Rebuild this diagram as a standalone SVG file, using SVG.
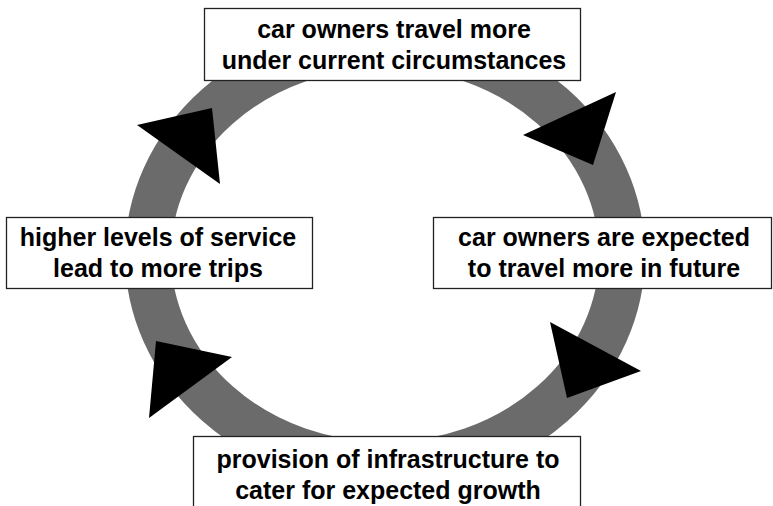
<svg xmlns="http://www.w3.org/2000/svg" width="773" height="506" viewBox="0 0 773 506">
<style>
.ring{fill:none;stroke:#6b6b6b;stroke-width:46}
.head{fill:#000}
.box{fill:#fff;stroke:#222;stroke-width:1.3}
.lbl{font-family:"Liberation Sans",Arial,sans-serif;font-weight:bold;font-size:25px;fill:#000;text-anchor:middle}
</style>
<rect width="773" height="506" fill="#fff"/>
<g id="connectors">
<ellipse class="ring" cx="385" cy="255" rx="237" ry="210"/>
<polygon class="head" points="137,125 212,108 220,184"/>
<polygon class="head" points="523,135 616,92 593,165"/>
<polygon class="head" points="550,322 641,371 567,398"/>
<polygon class="head" points="156,341 232,357 149,418"/>
</g>
<g id="node-top">
<rect class="box" x="204.5" y="8.5" width="376" height="72"/>
<text class="lbl" x="394" y="38">car owners travel more</text>
<text class="lbl" x="394" y="69">under current circumstances</text>
</g>
<g id="node-right">
<rect class="box" x="433.5" y="217.5" width="338" height="71"/>
<text class="lbl" x="604" y="246">car owners are expected</text>
<text class="lbl" x="604" y="277">to travel more in future</text>
</g>
<g id="node-bottom">
<rect class="box" x="193.5" y="436.5" width="387" height="80"/>
<text class="lbl" x="388" y="468">provision of infrastructure to</text>
<text class="lbl" x="388" y="499">cater for expected growth</text>
</g>
<g id="node-left">
<rect class="box" x="6.5" y="217.5" width="306" height="71"/>
<text class="lbl" x="158" y="246">higher levels of service</text>
<text class="lbl" x="158" y="277">lead to more trips</text>
</g>
</svg>
